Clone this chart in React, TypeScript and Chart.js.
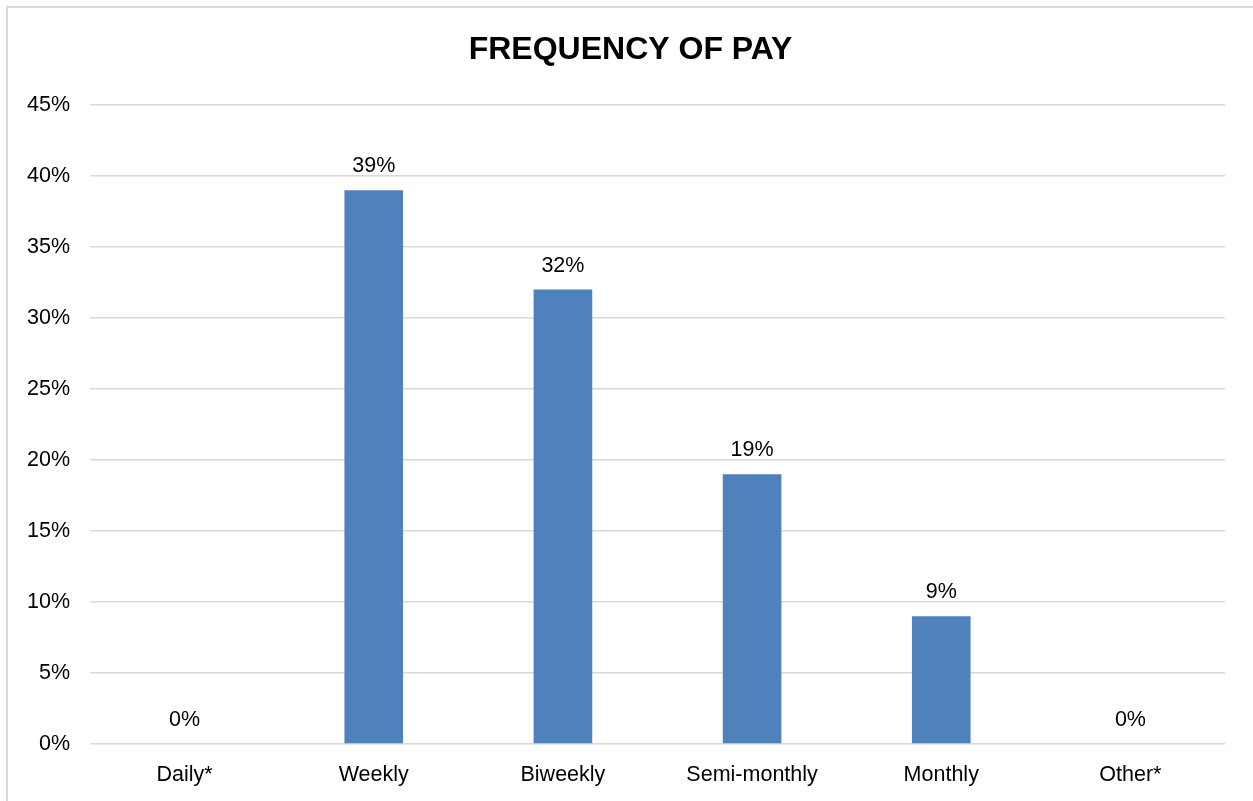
import React, { useEffect, useRef } from "react";
import { Chart, registerables } from "chart.js";

Chart.register(...registerables);

const categories = ["Daily*", "Weekly", "Biweekly", "Semi-monthly", "Monthly", "Other*"];
const values = [0, 39, 32, 19, 9, 0];
const yTicks = [0, 5, 10, 15, 20, 25, 30, 35, 40, 45];
const titleText = "FREQUENCY OF PAY";

const FONT = "'Liberation Sans', Arial, sans-serif";

const dataLabels = {
  id: "dataLabels",
  afterDatasetsDraw(chart: any) {
    const ctx = chart.ctx;
    const meta = chart.getDatasetMeta(0);
    ctx.save();
    ctx.font = `21.5px ${FONT}`;
    ctx.fillStyle = "#000";
    ctx.textAlign = "center";
    ctx.textBaseline = "middle";
    meta.data.forEach((bar: any, i: number) => {
      ctx.fillText(values[i] + "%", bar.x, bar.y - 24);
    });
    ctx.restore();
  },
};

const titlePlugin = {
  id: "centeredTitle",
  afterDraw(chart: any) {
    const ctx = chart.ctx;
    ctx.save();
    ctx.font = `bold 32px ${FONT}`;
    ctx.fillStyle = "#000";
    ctx.textAlign = "center";
    ctx.textBaseline = "middle";
    ctx.fillText(titleText, chart.width / 2 + 4, 50);
    ctx.restore();
  },
};

export default function App() {
  const ref = useRef<HTMLCanvasElement | null>(null);
  useEffect(() => {
    if (!ref.current) return;
    const chart = new Chart(ref.current, {
      type: "bar",
      data: {
        labels: categories,
        datasets: [
          {
            data: values,
            backgroundColor: "#4F81BD",
            borderWidth: 0,
            barPercentage: 0.31,
            categoryPercentage: 1,
          },
        ],
      },
      options: {
        animation: false,
        responsive: false,
        maintainAspectRatio: false,
        layout: { padding: { left: 0, right: 28, top: 105, bottom: 0 } },
        plugins: {
          legend: { display: false },
          tooltip: { enabled: false },
          title: { display: false },
        },
        scales: {
          x: {
            grid: { display: false },
            border: { display: false },
            ticks: {
              color: "#000",
              font: { family: FONT, size: 21.5 },
              padding: 10,
              maxRotation: 0,
            },
            afterFit(scale: any) {
              scale.height = 57;
            },
          },
          y: {
            min: 0,
            max: 45,
            afterBuildTicks(scale: any) {
              scale.ticks = yTicks.map((v) => ({ value: v }));
            },
            grid: { color: "#d9d9d9", lineWidth: 1.5, drawTicks: false },
            border: { display: false },
            ticks: {
              color: "#000",
              font: { family: FONT, size: 21.5 },
              padding: 20,
              callback: (v: any) => v + "%",
            },
            afterFit(scale: any) {
              scale.width = 90;
            },
          },
        },
      },
      plugins: [dataLabels, titlePlugin],
    });
    return () => chart.destroy();
  }, []);

  return (
    <div
      style={{
        position: "fixed",
        left: 0,
        top: 0,
        width: 1253,
        height: 801,
        background: "#fff",
        overflow: "hidden",
      }}
    >
      <div
        style={{
          position: "absolute",
          left: 6,
          top: 6,
          width: 1260,
          height: 810,
          border: "2px solid #d9d9d9",
          boxSizing: "border-box",
        }}
      />
      <canvas
        ref={ref}
        width={1253}
        height={801}
        style={{ position: "absolute", left: 0, top: 0, width: 1253, height: 801 }}
      />
    </div>
  );
}
